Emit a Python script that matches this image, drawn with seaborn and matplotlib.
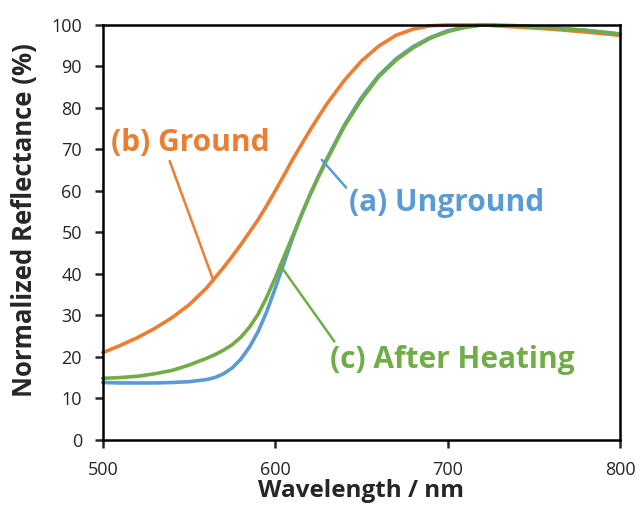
import pandas as pd
import seaborn as sns
import matplotlib.pyplot as plt

# wavelength grid (nm)
wavelength = [500, 510, 520, 530, 540, 550, 560, 565, 570, 575, 580, 585, 590, 595,
              600, 605, 610, 615, 620, 625, 630, 640, 650, 660, 670, 680, 690, 700,
              710, 720, 740, 760, 780, 800]

# normalized reflectance (%)
ground = [21, 22.7, 24.6, 26.8, 29.4, 32.5, 36.5, 39, 41.5, 44.2, 47, 50, 53, 56.4,
          60, 63.7, 67.5, 71, 74.5, 77.8, 81, 86.6, 91.3, 94.9, 97.5, 99, 99.8, 100,
          100, 100, 99.5, 99, 98.3, 97.5]
unground = [13.8, 13.7, 13.7, 13.7, 13.8, 14, 14.5, 15, 15.9, 17.3, 19.4, 22.3, 26, 30.8,
            36.5, 42.5, 48.5, 54, 59, 63.5, 67.8, 75.8, 82.5, 87.8, 91.8, 94.8, 97, 98.6,
            99.5, 100, 99.8, 99.3, 98.7, 97.8]
heated = [14.8, 15, 15.3, 15.9, 16.7, 18, 19.6, 20.5, 21.6, 22.9, 24.7, 27.1, 30.2, 34.3,
          39, 44, 49, 54, 58.8, 63.3, 67.5, 75.5, 82, 87.5, 91.5, 94.5, 96.8, 98.4,
          99.4, 100, 99.8, 99.3, 98.7, 97.8]

series = ['(b) Ground', '(a) Unground', '(c) After Heating']
colors = ['#ED7D31', '#5B9BD5', '#70AD47']

df = pd.concat([
    pd.DataFrame({'Wavelength': wavelength, 'Reflectance': ground, 'Sample': series[0]}),
    pd.DataFrame({'Wavelength': wavelength, 'Reflectance': unground, 'Sample': series[1]}),
    pd.DataFrame({'Wavelength': wavelength, 'Reflectance': heated, 'Sample': series[2]}),
])

sns.set_style('white')
plt.rcParams['font.family'] = ['Open Sans', 'DejaVu Sans']

fig, ax = plt.subplots(figsize=(6.42, 5.09), dpi=100)
fig.subplots_adjust(left=0.160, right=0.966, top=0.951, bottom=0.136)

sns.lineplot(data=df, x='Wavelength', y='Reflectance', hue='Sample',
             hue_order=series, palette=colors, linewidth=2.6, legend=False, ax=ax)
for line in ax.lines:
    line.set_clip_on(False)
    line.set_solid_joinstyle('round')
    line.set_solid_capstyle('round')

ax.set_xlim(500, 800)
ax.set_ylim(0, 100)
ax.set_xticks([500, 600, 700, 800])
ax.set_yticks(range(0, 101, 10))
ax.tick_params(axis='both', direction='out', length=6, width=1.8, labelsize=13,
               bottom=True, left=True)
ax.tick_params(axis='x', pad=9)
ax.tick_params(axis='y', pad=9)
for s in ax.spines.values():
    s.set_linewidth(1.8)
    s.set_color('black')

ax.set_xlabel('Wavelength / nm', fontsize=17.5, fontweight='bold', labelpad=0)
ax.set_ylabel('Normalized Reflectance (%)', fontsize=18.5, fontweight='bold')
ax.yaxis.set_label_coords(-0.125, 0.53)

# labels with leader lines
ax.annotate('(b) Ground', xy=(564, 38.6), xytext=(505, 71.6), color=colors[0],
            fontsize=21.5, fontweight='bold', va='center', ha='left',
            arrowprops=dict(arrowstyle='-', color=colors[0], lw=1.8,
                            shrinkA=0, shrinkB=0, relpos=(0.36, 0)))
ax.annotate('(a) Unground', xy=(627, 67.5), xytext=(643, 57), color=colors[1],
            fontsize=21.5, fontweight='bold', va='center', ha='left',
            arrowprops=dict(arrowstyle='-', color=colors[1], lw=1.8,
                            shrinkA=0, shrinkB=0, relpos=(0.0, 0.9)))
ax.annotate('(c) After Heating', xy=(602.7, 42.2), xytext=(632, 19.3), color=colors[2],
            fontsize=21.5, fontweight='bold', va='center', ha='left',
            arrowprops=dict(arrowstyle='-', color=colors[2], lw=1.8,
                            shrinkA=0, shrinkB=0, relpos=(0.03, 0.95)))

fig.savefig('out.png', dpi=100)
